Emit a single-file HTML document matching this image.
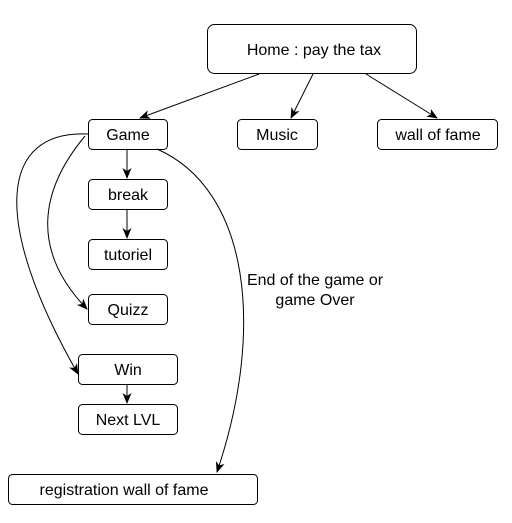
<!DOCTYPE html>
<html><head><style>body{margin:0;background:#fff}</style></head><body>
<svg width="512" height="518" xmlns="http://www.w3.org/2000/svg" font-family="Liberation Sans, Arial, sans-serif" font-size="16">
<defs><marker id="a" markerWidth="12" markerHeight="12" refX="10" refY="6" orient="auto" markerUnits="userSpaceOnUse"><path d="M0,1.5 L11,6 L0,10.5 L3,6 Z" fill="#000"/></marker></defs>
<g fill="#fff" stroke="#000" stroke-width="1">
<rect x="207.5" y="24.5" width="209" height="49" rx="7"/>
<rect x="88.5" y="119.5" width="79" height="30" rx="4"/>
<rect x="237.5" y="119.5" width="80" height="30" rx="4"/>
<rect x="377.5" y="119.5" width="120" height="30" rx="4"/>
<rect x="88.5" y="179.5" width="79" height="30" rx="4"/>
<rect x="88.5" y="239.5" width="79" height="30" rx="4"/>
<rect x="88.5" y="294.5" width="79" height="30" rx="4"/>
<rect x="78.5" y="354.5" width="99" height="30" rx="4"/>
<rect x="78.5" y="404.5" width="99" height="30" rx="4"/>
<rect x="8.5" y="474.5" width="249" height="30" rx="4"/>
</g>
<g fill="none" stroke="#000" stroke-width="1" marker-end="url(#a)">
<path d="M259,74 L140,118"/>
<path d="M313,74 L291,118"/>
<path d="M366,74 L437,118"/>
<path d="M127,149 L127,178"/>
<path d="M127,209 L127,238"/>
<path d="M127,384 L127,403"/>
<path d="M88,134 C0,130 -10,220 78,374"/>
<path d="M85,136 C40,190 30,250 87,309"/>
<path d="M157,149 C250,190 265,330 217,472"/>
</g>
<g text-anchor="middle" fill="#000">
<text x="314" y="55">Home : pay the tax</text>
<text x="128" y="140">Game</text>
<text x="277" y="140">Music</text>
<text x="438" y="140">wall of fame</text>
<text x="128" y="200">break</text>
<text x="128" y="260">tutoriel</text>
<text x="128" y="315">Quizz</text>
<text x="128" y="375">Win</text>
<text x="128" y="425">Next LVL</text>
<text x="124" y="495">registration wall of fame</text>
<text x="315" y="285">End of the game or</text>
<text x="315" y="305">game Over</text>
</g>
</svg>
</body></html>
